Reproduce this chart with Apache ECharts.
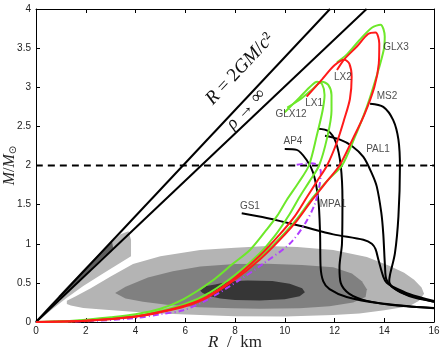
<!DOCTYPE html>
<html>
<head>
<meta charset="utf-8">
<script src="https://cdn.jsdelivr.net/npm/echarts@6/dist/echarts.min.js"></script>
<style>
html, body { margin: 0; padding: 0; background: #fff; }
#chart { width: 442px; height: 354px; }
</style>
</head>
<body>
<div id="chart"></div>
<script>
// axes (R in km, M in solar masses)
const rTicks = [0, 2, 4, 6, 8, 10, 12, 14, 16];
const mTicks = [0, 0.5, 1, 1.5, 2, 2.5, 3, 3.5, 4];

// causality / buchdahl limits and the 2 Msun line
const schwarzLine = [[0, 0], [11.82, 4]];
const buchdahlLine = [[0, 0], [13.29, 4]];
const twoSolar = [[0, 2], [16, 2]];

// shaded confidence regions
const wedgeOuter = [[0, 0], [0.4, 0.16], [1.2, 0.43], [2.0, 0.7], [2.8, 0.95], [3.4, 1.12], [3.72, 1.16], [3.82, 1.05], [3.82, 0.84], [3.2, 0.72], [2.6, 0.6], [1.9, 0.46], [1.2, 0.3], [0.6, 0.15], [0.2, 0.04]];
const wedgeInner = [[0.9, 0.33], [1.8, 0.63], [2.5, 0.86], [3.05, 1.04], [3.1, 0.95], [2.4, 0.74], [1.5, 0.46], [1.0, 0.31]];
const lightRegion = [[1.24, 0.27], [1.6, 0.33], [2.2, 0.43], [3.0, 0.58], [3.9, 0.74], [5, 0.84], [6.6, 0.92], [8, 0.95], [9.3, 0.97], [10.5, 0.96], [11.95, 0.92], [13.3, 0.83], [14.2, 0.72], [14.8, 0.63], [15.2, 0.54], [15.5, 0.44], [15.6, 0.36], [15.4, 0.27], [15.0, 0.2], [14, 0.15], [13, 0.11], [11.95, 0.09], [10, 0.07], [8, 0.075], [6.6, 0.09], [5, 0.11], [3.9, 0.13], [2.8, 0.155], [1.9, 0.18], [1.4, 0.21], [1.24, 0.23]];
const midRegion = [[3.18, 0.37], [3.6, 0.45], [4.5, 0.57], [5.5, 0.65], [6.6, 0.71], [8, 0.74], [9.3, 0.745], [10.7, 0.73], [11.95, 0.7], [12.7, 0.62], [13.1, 0.52], [13.3, 0.42], [13.25, 0.32], [12.75, 0.25], [11.8, 0.2], [10.6, 0.175], [9, 0.17], [7.9, 0.175], [6.5, 0.19], [5.25, 0.22], [4.3, 0.26], [3.6, 0.3]];
const darkRegion = [[6.6, 0.4], [6.85, 0.46], [7.2, 0.48], [7.8, 0.52], [8.5, 0.53], [9.5, 0.525], [10.2, 0.49], [10.7, 0.43], [10.81, 0.38], [10.6, 0.33], [10.0, 0.29], [9.0, 0.275], [8.0, 0.28], [7.4, 0.3], [7.0, 0.33], [6.7, 0.37]];

// strange star sequences
const greenA = [[0, 0], [1, 0.006], [2, 0.03], [3, 0.06], [4, 0.1], [5, 0.17], [5.92, 0.29], [7.06, 0.52], [7.9, 0.74], [8.6, 0.92], [9.27, 1.18], [9.7, 1.36], [10.08, 1.56], [10.55, 1.78], [10.97, 2.0], [11.3, 2.4], [11.52, 2.7], [11.6, 2.9], [11.5, 3.04], [11.3, 3.07], [11.0, 3.0], [10.6, 2.87], [10.25, 2.76], [10.0, 2.68]];
const greenB = [[0, 0], [2, 0.02], [4, 0.075], [5, 0.14], [6, 0.23], [7, 0.38], [8, 0.6], [9, 0.88], [9.6, 1.1], [10.2, 1.38], [10.6, 1.6], [11.0, 1.8], [11.38, 2.0], [11.7, 2.35], [11.88, 2.7], [11.88, 2.9], [11.75, 3.03], [11.5, 3.07], [11.1, 2.97], [10.6, 2.84], [10.1, 2.74]];
const redMid = [[0, 0], [2, 0.015], [4, 0.07], [5, 0.13], [6, 0.21], [6.86, 0.32], [7.9, 0.54], [9, 0.85], [9.8, 1.12], [10.4, 1.35], [10.9, 1.6], [11.3, 1.8], [11.7, 2.0], [12.1, 2.3], [12.4, 2.6], [12.62, 2.85], [12.69, 3.13], [12.6, 3.3], [12.4, 3.35], [12.0, 3.28], [11.5, 3.1], [10.88, 2.88]];
const redBig = [[0, 0], [2, 0.015], [4, 0.068], [5, 0.125], [6, 0.2], [6.86, 0.31], [7.9, 0.52], [9, 0.8], [9.8, 1.05], [10.5, 1.3], [11.1, 1.56], [11.7, 1.8], [12.2, 2.0], [12.75, 2.35], [13.2, 2.65], [13.6, 3.0], [13.78, 3.3], [13.8, 3.56], [13.65, 3.7], [13.35, 3.68], [12.9, 3.52], [12.4, 3.36], [12.1, 3.22]];
const greenBig = [[0, 0], [2, 0.018], [4, 0.072], [5, 0.13], [6, 0.21], [6.86, 0.32], [7.9, 0.53], [9, 0.82], [9.8, 1.07], [10.5, 1.32], [11.1, 1.58], [11.75, 1.82], [12.3, 2.0], [12.8, 2.35], [13.3, 2.75], [13.7, 3.15], [13.98, 3.48], [14.02, 3.65], [13.85, 3.8], [13.5, 3.76], [13.0, 3.6], [12.5, 3.42], [12.1, 3.32]];
const dashDot = [[0, 0], [2, 0.01], [4, 0.05], [5, 0.1], [5.92, 0.15], [6.86, 0.28], [8.2, 0.54], [9.2, 0.76], [10.2, 1.0], [10.8, 1.25], [11.2, 1.5], [11.4, 1.75], [11.45, 1.92], [11.3, 2.01], [11.05, 2.03], [10.48, 2.01]];

// neutron star sequences
const ap4 = [[10.0, 2.21], [10.48, 2.2], [10.88, 2.07], [11.15, 1.9], [11.35, 1.56], [11.42, 1.13], [11.44, 0.71], [11.55, 0.52], [11.8, 0.42], [12.49, 0.32], [13.83, 0.24], [16, 0.175]];
const mpa1 = [[11.35, 2.47], [11.75, 2.44], [12.05, 2.3], [12.25, 2.0], [12.32, 1.56], [12.3, 1.0], [12.2, 0.7], [12.25, 0.5], [12.6, 0.36], [13.3, 0.27], [14.5, 0.21], [16, 0.18]];
const pal1 = [[11.62, 2.38], [12.22, 2.33], [12.7, 2.25], [13.16, 2.11], [13.5, 1.9], [13.7, 1.73], [13.88, 1.4], [13.96, 1.13], [14.03, 0.71], [14.08, 0.55], [14.3, 0.45], [15, 0.33], [16, 0.26]];
const ms2 = [[13.43, 2.79], [13.96, 2.75], [14.36, 2.58], [14.57, 2.33], [14.63, 1.98], [14.57, 1.35], [14.43, 0.88], [14.23, 0.6], [14.2, 0.52], [14.4, 0.43], [15, 0.34], [16, 0.26]];
const gs1 = [[8.27, 1.39], [9.27, 1.33], [10.6, 1.23], [11.95, 1.12], [13.16, 1.05], [13.5, 1.0], [13.65, 0.93], [13.77, 0.79], [13.96, 0.58], [14.1, 0.5], [14.36, 0.45], [15, 0.36], [16, 0.27]];

// curve names and where they are written
const curveNames = ['GLX3', 'LX2', 'LX1', 'GLX12', 'MS2', 'AP4', 'PAL1', 'MPA1', 'GS1'];
const namePos = [[14.47, 3.51], [12.34, 3.13], [11.18, 2.79], [10.25, 2.65], [14.11, 2.88], [10.33, 2.31], [13.75, 2.21], [11.94, 1.51], [8.6, 1.48]];

const chart = echarts.init(document.getElementById('chart'));

function region(points, color) {
    return {
        type: 'custom',
        z: 1,
        silent: true,
        data: [0],
        renderItem: function (params, api) {
            return {
                type: 'polygon',
                shape: { points: points.map(p => api.coord(p)) },
                style: { fill: color }
            };
        }
    };
}

function curve(points, color, width, type) {
    return {
        type: 'line',
        data: points,
        showSymbol: false,
        smooth: 0.3,
        z: 3,
        silent: true,
        lineStyle: { color: color, width: width, type: type || 'solid' }
    };
}

const GREEN = '#6de82a';
const RED = '#ff1a1a';

const axisCommon = {
    type: 'value',
    axisLine: { show: true, onZero: false, lineStyle: { color: '#000', width: 1 } },
    axisTick: { show: true, inside: true, length: 4, lineStyle: { color: '#000' } },
    splitLine: { show: false }
};

const option = {
    animation: false,
    grid: { left: 36, right: 8, top: 9, bottom: 32, containLabel: false, outerBoundsMode: 'none' },
    xAxis: [
        Object.assign({}, axisCommon, {
            min: rTicks[0], max: rTicks[rTicks.length - 1], interval: rTicks[1] - rTicks[0],
            position: 'bottom',
            axisLabel: { color: '#222', fontSize: 10, fontFamily: 'Liberation Sans', margin: 4 },
            name: '{i|R}  /  km',
            nameLocation: 'middle',
            nameGap: 12,
            nameMoveOverlap: false,
            nameTextStyle: {
                fontFamily: 'Liberation Serif', fontSize: 17, color: '#222',
                rich: { i: { fontFamily: 'Liberation Serif', fontStyle: 'italic', fontSize: 17, color: '#222' } }
            }
        }),
        Object.assign({}, axisCommon, {
            min: rTicks[0], max: rTicks[rTicks.length - 1], interval: rTicks[1] - rTicks[0],
            position: 'top',
            axisLabel: { show: false }
        })
    ],
    yAxis: [
        Object.assign({}, axisCommon, {
            min: mTicks[0], max: mTicks[mTicks.length - 1], interval: mTicks[1] - mTicks[0],
            position: 'left',
            axisLabel: { color: '#222', fontSize: 10, fontFamily: 'Liberation Sans', margin: 5 },
            name: '{i|M}/{i|M}{s|⊙}',
            nameLocation: 'middle',
            nameGap: 18,
            nameRotate: 90,
            nameMoveOverlap: false,
            nameTextStyle: {
                fontFamily: 'Liberation Serif', fontSize: 16, color: '#222',
                rich: {
                    i: { fontFamily: 'Liberation Serif', fontStyle: 'italic', fontSize: 16, color: '#222' },
                    s: { fontFamily: 'DejaVu Sans', fontSize: 10, color: '#222', padding: [6, 0, 0, 0] }
                }
            }
        }),
        Object.assign({}, axisCommon, {
            min: mTicks[0], max: mTicks[mTicks.length - 1], interval: mTicks[1] - mTicks[0],
            position: 'right',
            axisLabel: { show: false }
        })
    ],
    graphic: [
        {
            type: 'text', x: 240, y: 69, rotation: 47 * Math.PI / 180, z: 10,
            style: {
                text: '{i|R} = 2{i|GM}/{i|c}²', align: 'center', verticalAlign: 'middle',
                font: '19px "Liberation Serif"', fill: '#111',
                rich: { i: { fontStyle: 'italic', fontFamily: 'Liberation Serif', fontSize: 19, fill: '#111' } }
            }
        },
        {
            type: 'text', x: 246, y: 109, rotation: 47 * Math.PI / 180, z: 10,
            style: {
                text: '{i|ρ} → ∞', align: 'center', verticalAlign: 'middle',
                font: '18px "Liberation Serif"', fill: '#111',
                rich: { i: { fontStyle: 'italic', fontFamily: 'Liberation Serif', fontSize: 18, fill: '#111' } }
            }
        }
    ],
    series: [
        region(lightRegion, '#b4b4b4'),
        region(midRegion, '#808080'),
        region(darkRegion, '#363636'),
        region(wedgeOuter, '#b8b8b8'),
        region(wedgeInner, '#5e5e5e'),
        curve(schwarzLine, '#000', 2),
        curve(buchdahlLine, '#000', 2),
        curve(twoSolar, '#000', 2, [7, 5]),
        curve(gs1, '#000', 2),
        curve(ap4, '#000', 2),
        curve(mpa1, '#000', 2),
        curve(pal1, '#000', 2),
        curve(ms2, '#000', 2),
        curve(dashDot, '#b03cff', 2, [6, 3, 1, 3]),
        curve(greenA, GREEN, 2),
        curve(greenB, GREEN, 2),
        curve(greenBig, GREEN, 2),
        curve(redMid, RED, 2),
        curve(redBig, RED, 2),
        {
            type: 'scatter',
            data: namePos.map((p, i) => ({ value: p, name: curveNames[i] })),
            symbolSize: 0,
            z: 5,
            silent: true,
            label: {
                show: true,
                position: 'inside',
                formatter: '{b}',
                fontFamily: 'Liberation Sans',
                fontSize: 10,
                color: '#222'
            }
        }
    ]
};

chart.setOption(option);
</script>
</body>
</html>
